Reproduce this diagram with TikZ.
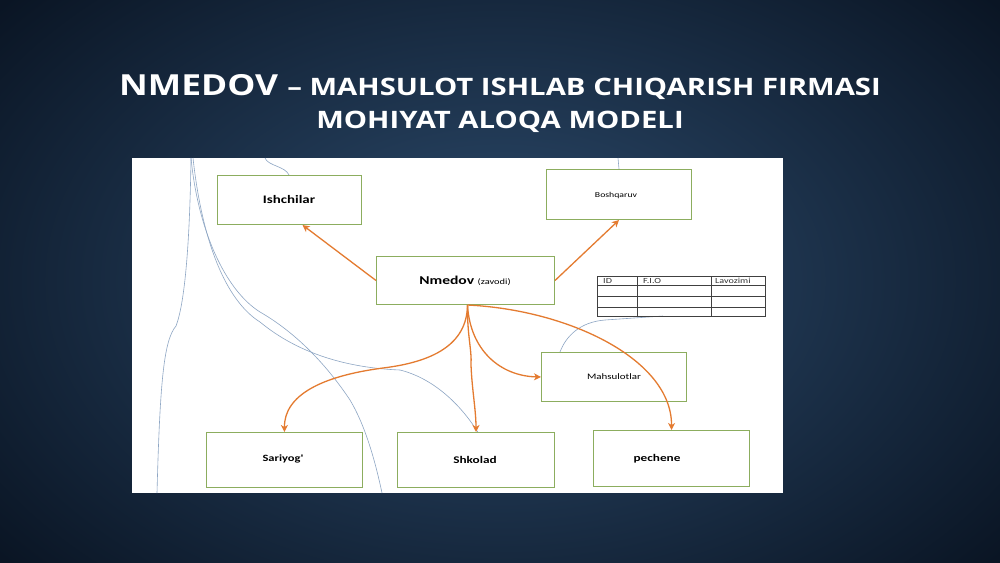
\documentclass[tikz,border=0pt]{standalone}
\usepackage{fontspec}
\setmainfont{Open Sans}
\newfontfamily\titlefont[FakeStretch=1.22]{Open Sans}
\newfontfamily\boxfont[FakeStretch=1.3]{Carlito}
\usetikzlibrary{arrows.meta}

\definecolor{bgin}{HTML}{2D4C6E}
\definecolor{bgout}{HTML}{0A1524}
\definecolor{boxgreen}{HTML}{8CAD5E}
\definecolor{relorange}{HTML}{E47B30}
\definecolor{scanblue}{HTML}{8EA6C4}

\tikzset{
  entity/.style={draw=boxgreen,line width=1pt,fill=white,inner sep=0pt,
    font=\boxfont\bfseries\fontsize{10.2}{12}\selectfont},
  rel/.style={draw=relorange,line width=1.3pt,
    -{Stealth[length=7pt,width=7pt,inset=2pt]}},
  scanline/.style={draw=scanblue,line width=0.6pt},
  cell/.style={anchor=west,inner sep=0pt,
    font=\boxfont\fontsize{7.8}{9}\selectfont,text=black!80}
}

\begin{document}
\begin{tikzpicture}[x=1pt,y=-1pt]
\useasboundingbox (0,0) rectangle (1000,562);
\shade[inner color=bgin,outer color=bgout] (-150,-150) rectangle (1150,712);

% title
\node[text=white,font=\titlefont\bfseries] (title1) at (500,87)
  {\fontsize{29}{31}\selectfont NMEDOV \fontsize{24}{28}\selectfont – MAHSULOT ISHLAB CHIQARISH FIRMASI};
\node[text=white,font=\titlefont\bfseries\fontsize{24}{28}\selectfont] (title2) at (500,122)
  {MOHIYAT ALOQA MODELI};

% picture area
\fill[white] (132,158) rectangle (783,493);

% scanned lines
\draw[scanline] (191,158) .. controls (190,230) and (186,300) .. (176,326)
  .. controls (164,340) and (160,380) .. (157,493);
\draw[scanline] (191,158) .. controls (198,230) and (225,290) .. (260,312)
  .. controls (300,335) and (330,370) .. (350,400) .. controls (365,425) and (375,460) .. (382,493);
\draw[scanline] (193,158) .. controls (202,240) and (225,300) .. (260,322)
  .. controls (300,355) and (350,368) .. (400,370) .. controls (440,380) and (470,415) .. (485,445);
\draw[scanline] (265,158) .. controls (268,166) and (285,166) .. (289,175);
\draw[scanline] (618,158) -- (619,169);
\draw[scanline] (560,352) .. controls (566,336) and (580,322) .. (605,320) -- (663,316);

% boxes
\node[entity,anchor=north west,minimum width=144,minimum height=49] (ish) at (217,175) {};
\node[entity,anchor=north west,minimum width=145,minimum height=50] (bosh) at (546,169) {};
\node[entity,anchor=north west,minimum width=178,minimum height=48] (nmed) at (376,256) {};
\node[entity,anchor=north west,minimum width=145,minimum height=49] (mahs) at (541,352) {};
\node[entity,anchor=north west,minimum width=156,minimum height=55] (sari) at (206,432) {};
\node[entity,anchor=north west,minimum width=157,minimum height=55] (shko) at (397,432) {};
\node[entity,anchor=north west,minimum width=156,minimum height=56] (pech) at (593,430) {};

\node[font=\boxfont\bfseries\fontsize{11.5}{13}\selectfont] (ishlbl) at (289,200) {Ishchilar};
\node[font=\boxfont\fontsize{7.5}{9}\selectfont] (boshlbl) at (616,195) {Boshqaruv};
\node (nmedlbl) at (465,281) {\boxfont\bfseries\fontsize{12}{14}\selectfont Nmedov
  \fontsize{8}{10}\mdseries\selectfont(zavodi)};
\node[font=\boxfont\fontsize{8.4}{10}\selectfont] (mahslbl) at (614,377) {Mahsulotlar};
\node[font=\boxfont\bfseries\fontsize{9.6}{12}\selectfont] (sarilbl) at (283,459) {Sariyog'};
\node[font=\boxfont\bfseries\fontsize{10.2}{12}\selectfont] (shkolbl) at (475,460) {Shkolad};
\node[font=\boxfont\bfseries\fontsize{10.2}{12}\selectfont] (pechlbl) at (657,459) {pechene};

% table
\draw[black!75,line width=0.8pt] (597,276) rectangle (765,316);
\draw[black!75,line width=0.8pt] (597,285) -- (765,285) (597,296) -- (765,296)
  (597,307) -- (765,307) (637,276) -- (637,316) (711,276) -- (711,316);
\node[cell] (colid) at (603,280.5) {ID};
\node[cell] (colfio) at (643,280.5) {F.I.O};
\node[cell] (collav) at (715,280.5) {Lavozimi};

% relations
\draw[rel] (nmed.west) -- ([xshift=13pt]ish.south);
\draw[rel] (nmed.east) -- (bosh.south);
\draw[rel] ([xshift=2pt]nmed.south) .. controls (467,345) and (432,362) .. (383,368)
  .. controls (322,376) and (284,395) .. (sari.north);
\draw[rel] ([xshift=2pt]nmed.south) .. controls (467,335) and (472,350) .. (471,365)
  .. controls (472,390) and (476,410) .. (shko.north);
\draw[rel] ([xshift=2pt]nmed.south) .. controls (470,350) and (500,376) .. (mahs.west);
\draw[rel] ([xshift=2pt]nmed.south) .. controls (570,310) and (672,360) .. (pech.north);
\end{tikzpicture}
\end{document}
